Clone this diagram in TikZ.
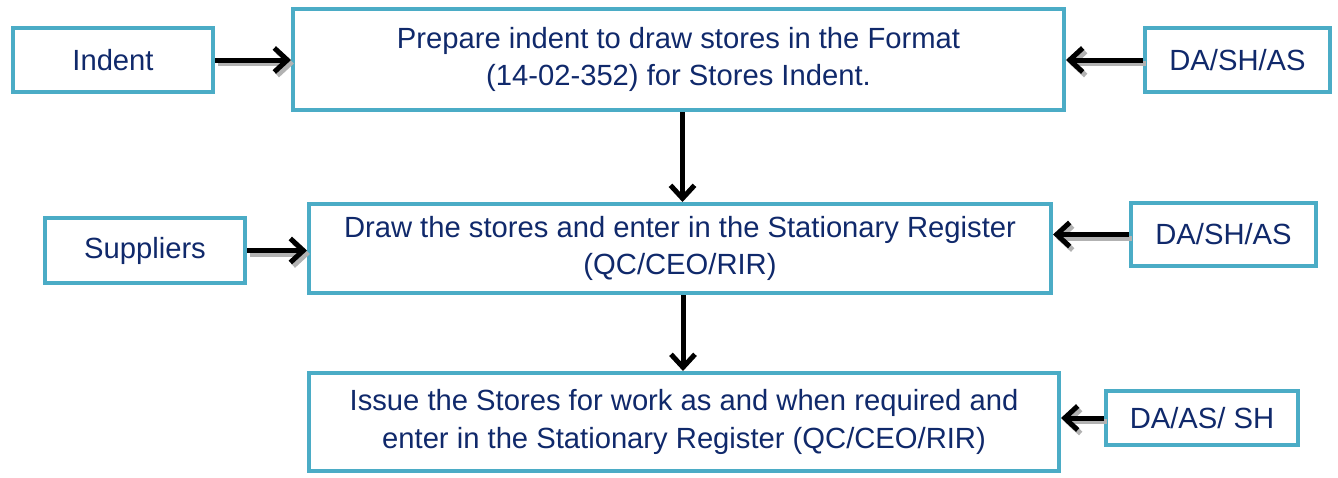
\documentclass[tikz,border=0pt]{standalone}
\usepackage{fontspec}
\setmainfont{Liberation Sans}
\usepackage{tikz}
\usetikzlibrary{arrows.meta,positioning}
\definecolor{boxline}{HTML}{4BACC6}
\definecolor{boxtext}{HTML}{10296B}
\tikzset{
  x=1pt, y=-1pt,
  bx/.style  ={draw=boxline, line width=4pt, fill=white, inner sep=0pt, align=center,
               text=boxtext, font=\fontsize{29.2}{37.5}\selectfont},
  arr/.style ={line width=5pt, -{Straight Barb[length=13pt,width=24pt,line width=5pt]}},
  shd/.style ={draw=gray!60, transform canvas={shift={(3pt,-3.5pt)}}}
}
\begin{document}
\begin{tikzpicture}
\useasboundingbox (0,0) rectangle (1338,477);
% boxes
\node[bx, minimum width=200pt, minimum height=64pt] (indent) at (113,60) {Indent};
\node[bx, minimum width=771pt, minimum height=101pt] (prep) at (678.5,59.5)
  {Prepare indent to draw stores in the Format\\(14-02-352) for Stores Indent.};
\node[bx, minimum width=185pt, minimum height=64pt] (da1) at (1237.5,60) {DA/SH/AS};
\node[bx, minimum width=200pt, minimum height=65pt] (supp) at (145,250.5) {Suppliers};
\node[bx, minimum width=742pt, minimum height=89pt] (draw) at (680,248.5)
  {Draw the stores and enter in the Stationary Register\\(QC/CEO/RIR)};
\node[bx, minimum width=185pt, minimum height=63pt] (da2) at (1223.5,234.5) {DA/SH/AS};
\node[bx, minimum width=750pt, minimum height=98pt] (issue) at (684,422)
  {Issue the Stores for work as and when required and\\enter in the Stationary Register (QC/CEO/RIR)};
\node[bx, minimum width=192pt, minimum height=54pt] (da3) at (1202,418) {DA/AS/ SH};
% side arrows, shadow first
\foreach \a/\e/\b/\s in {indent/east/prep/west, da1/west/prep/east, supp/east/draw/west,
                         da2/west/draw/east, da3/west/issue/east}{
  \draw[arr, shd] (\a.\e) -- (\a.\e -| \b.\s);
  \draw[arr] (\a.\e) -- (\a.\e -| \b.\s);
}
% down arrows
\draw[arr] ([xshift=4pt]prep.south) -- ([xshift=4pt]prep.south |- draw.north);
\draw[arr] ([xshift=3pt]draw.south) -- ([xshift=3pt]draw.south |- issue.north);
\end{tikzpicture}
\end{document}
